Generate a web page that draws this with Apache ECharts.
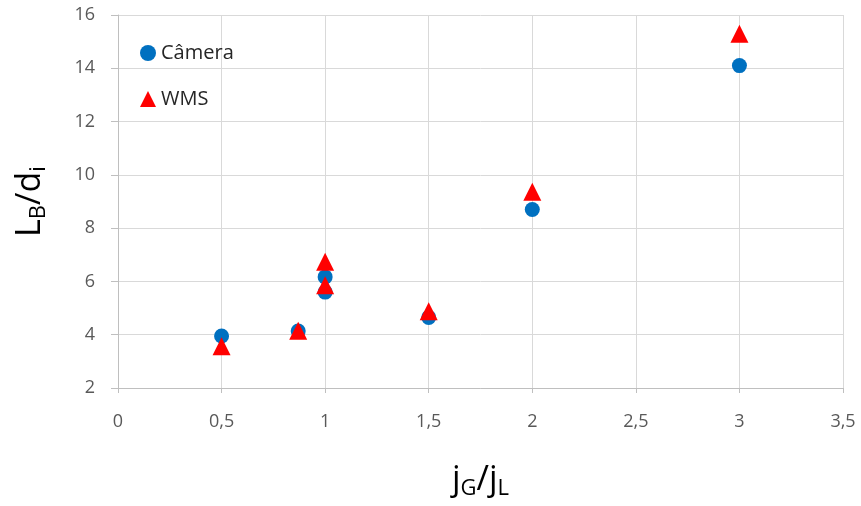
<!DOCTYPE html>
<html><head><meta charset="utf-8">
<script src="https://cdn.jsdelivr.net/npm/echarts@6/dist/echarts.min.js"></script>
<style>html,body{margin:0;padding:0;background:#fff}#c{width:861px;height:506px}</style>
</head><body><div id="c"></div>
<script>
const cameraX = [0.5, 0.87, 1, 1, 1.5, 2, 3];
const cameraY = [3.95, 4.14, 6.17, 5.6, 4.65, 8.7, 14.1];
const wmsX = [0.5, 0.87, 1, 1, 1.5, 2, 3];
const wmsY = [3.57, 4.15, 6.74, 5.86, 4.88, 9.37, 15.3];
const seriesNames = ['Câmera', 'WMS'];

const chart = echarts.init(document.getElementById('c'));
const tickColor = '#595959';
const rich = {
  m: {fontFamily: 'Open Sans', fontSize: 34, color: '#000'},
  s: {fontFamily: 'Open Sans', fontSize: 22, color: '#000', verticalAlign: 'bottom', padding: [18,0,0,0]}
};
chart.setOption({
  animation: false,
  grid: {left: 118, right: 18, top: 15, bottom: 118, containLabel: false, outerBoundsMode: 'none'},
  legend: {
    left: 135, top: 38, orient: 'vertical', itemGap: 26,
    itemWidth: 16, itemHeight: 16,
    textStyle: {fontFamily: 'Open Sans', fontSize: 20, color: '#262626'},
    data: [{name: seriesNames[0], icon: 'circle'}, {name: seriesNames[1], icon: 'triangle'}]
  },
  xAxis: {
    type: 'value', min: 0, max: 3.5, interval: 0.5,
    axisLine: {show: true, lineStyle: {color: '#bfbfbf'}},
    axisTick: {show: true, length: 5, lineStyle: {color: '#bfbfbf'}},
    splitLine: {show: true, lineStyle: {color: '#d9d9d9'}},
    axisLabel: {color: tickColor, fontFamily: 'Open Sans', fontSize: 18, margin: 25,
      formatter: v => String(v).replace('.', ',')},
    name: '{m|j}{s|G}{m|/j}{s|L}', nameLocation: 'middle', nameGap: 72,
    nameTextStyle: {rich}
  },
  yAxis: {
    type: 'value', min: 2, max: 16, interval: 2,
    axisLine: {show: true, lineStyle: {color: '#bfbfbf'}},
    axisTick: {show: true, length: 7, lineStyle: {color: '#bfbfbf'}},
    splitLine: {show: true, lineStyle: {color: '#d9d9d9'}},
    axisLabel: {color: tickColor, fontFamily: 'Open Sans', fontSize: 18, margin: 23},
    name: '{m|L}{s|B}{m|/d}{s|i}', nameLocation: 'middle', nameGap: 68, nameRotate: 90,
    nameTextStyle: {rich}
  },
  series: [
    {name: seriesNames[0], type: 'scatter', symbol: 'circle', symbolSize: 15,
      itemStyle: {color: '#0070c0', opacity: 1}, data: cameraX.map((x, i) => [x, cameraY[i]])},
    {name: seriesNames[1], type: 'scatter', symbol: 'triangle', symbolSize: 18,
      itemStyle: {color: '#ff0000', opacity: 1}, data: wmsX.map((x, i) => [x, wmsY[i]])}
  ]
});
</script></body></html>
